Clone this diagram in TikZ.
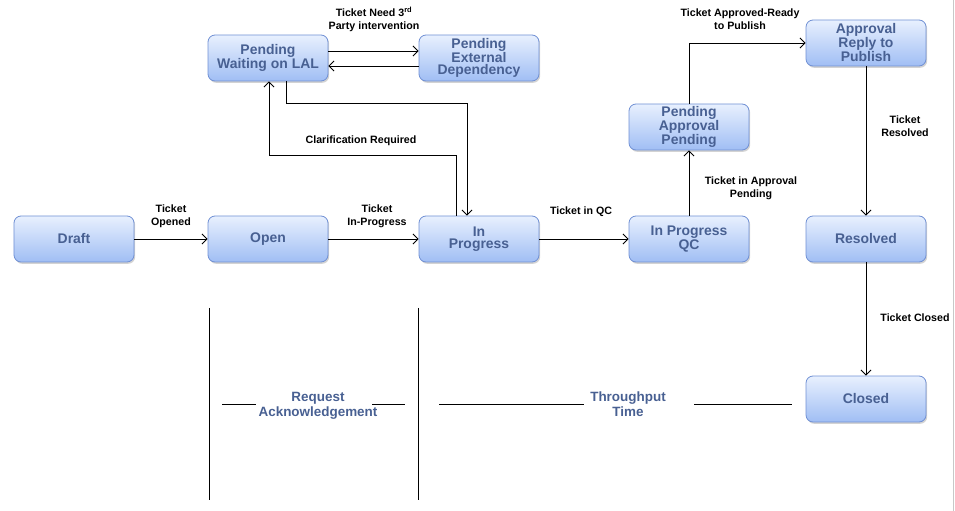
\documentclass[tikz,border=0pt]{standalone}
\usepackage{fontspec}
\setmainfont{Liberation Sans}
\usetikzlibrary{arrows.meta,shadows}
\definecolor{nodetop}{RGB}{232,240,254}
\definecolor{nodebot}{RGB}{160,190,244}
\definecolor{nodeborder}{RGB}{112,144,212}
\definecolor{nodetext}{RGB}{72,96,146}
\definecolor{edgegray}{RGB}{200,200,200}
\tikzset{
  state/.style={draw=nodeborder, line width=0.8bp, rounded corners=7bp,
    minimum width=120bp, minimum height=46bp, inner sep=0pt,
    top color=nodetop, bottom color=nodebot, text=nodetext, align=center,
    font=\bfseries\fontsize{14}{12}\selectfont,
    drop shadow={shadow xshift=1.2bp, shadow yshift=-1.8bp, opacity=0.35}},
  lbl/.style={font=\bfseries\fontsize{10.7}{13}\selectfont, align=center, text=black, inner sep=0pt},
  bot/.style={font=\bfseries\fontsize{13.5}{15.5}\selectfont, align=center, text=nodetext, inner sep=0pt},
  arr/.style={line width=0.9bp, -{Straight Barb[length=5bp,width=10bp]}},
  ln/.style={line width=0.9bp}
}
\begin{document}
\begin{tikzpicture}[x=1bp,y=-1bp]
\useasboundingbox (0,0) rectangle (955,511);
\draw[edgegray, line width=0.8bp] (953,0) -- (953,511);
% nodes
\node[state] (draft) at (74,239) {Draft};
\node[state] (open) at (268,239) {Open};
\node[state] (inprog) at (479,239) {In\\Progress};
\node[state] (qc) at (689,239) {In Progress\\QC};
\node[state] (resolved) at (866,239) {Resolved};
\node[state] (closed) at (866,399) {Closed};
\node[state] (lal) at (268,58) {Pending\\Waiting on LAL};
\node[state] (ext) at (479,58) {Pending\\External\\Dependency};
\node[state] (appr) at (689,127) {Pending\\Approval\\Pending};
\node[state] (reply) at (866,43) {Approval\\Reply to\\Publish};
% helper coordinates
\coordinate (r1) at (0,51);
\coordinate (r2) at (0,66);
\coordinate (k1) at (286,103);
\coordinate (k2) at (467,103);
\coordinate (k3) at (456,155);
\coordinate (k4) at (269,155);
% connectors
\draw[arr] (draft) -- (open);
\draw[arr] (open) -- (inprog);
\draw[arr] (inprog) -- (qc);
\draw[arr] (lal.east |- r1) -- (ext.west |- r1);
\draw[arr] (ext.west |- r2) -- (lal.east |- r2);
\draw[arr] (lal.south -| k1) -- (k1) -- (k2) -- (inprog.north -| k2);
\draw[arr] (inprog.north -| k3) -- (k3) -- (k4) -- (lal.south -| k4);
\draw[arr] (qc) -- (appr);
\draw[arr] (appr.north) |- (reply.west);
\draw[arr] (reply) -- (resolved);
\draw[arr] (resolved) -- (closed);
% labels
\node[lbl] (l1) at (171,216) {Ticket\\Opened};
\node[lbl] (l2) at (377,216) {Ticket\\In-Progress};
\node[lbl] (l3) at (581,212) {Ticket in QC};
\node[lbl] (l4) at (374,19) {Ticket Need 3\textsuperscript{rd}\\Party intervention};
\node[lbl] (l5) at (361,141) {Clarification Required};
\node[lbl] (l6) at (751,188) {Ticket in Approval\\Pending};
\node[lbl] (l7) at (740,19) {Ticket Approved-Ready\\to Publish};
\node[lbl] (l8) at (905,126) {Ticket\\Resolved};
\node[lbl] (l9) at (915,318) {Ticket Closed};
% bottom
\draw[ln] (209,308) -- (209,500);
\draw[ln] (418,308) -- (418,500);
\node[bot] (ra) at (318,406) {Request\\Acknowledgement};
\draw[ln] (222,404) -- (256,404);
\draw[ln] (372,404) -- (405,404);
\node[bot] (tp) at (628,404) {Throughput\\Time};
\draw[ln] (439,404) -- (584,404);
\draw[ln] (694,404) -- (792,404);
\end{tikzpicture}
\end{document}
